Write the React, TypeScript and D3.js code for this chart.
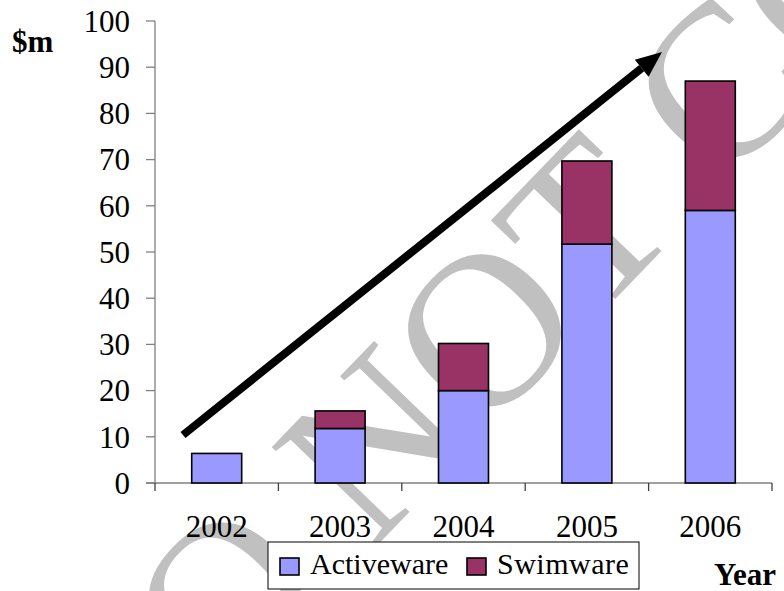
import React from 'react';
import * as d3 from 'd3';

const years = ['2002', '2003', '2004', '2005', '2006'];
const activeware = [6.4, 11.8, 20, 51.7, 59];
const swimware = [0, 3.8, 10.2, 18, 28];
const yTicks = [0, 10, 20, 30, 40, 50, 60, 70, 80, 90, 100];
const seriesNames = ['Activeware', 'Swimware'];
const seriesColors = ['#9999FF', '#993366'];

const W = 784;
const H = 591;
const left = 155;
const right = 772;
const top = 21;
const bottom = 483;
const FONT = "'Liberation Serif', 'Times New Roman', serif";

export default function App() {
  const x = d3.scaleBand<string>().domain(years).range([left, right]).padding(0);
  const y = d3.scaleLinear().domain([0, 100]).range([bottom, top]);
  const barW = x.bandwidth() * 0.405;

  const table = years.map((yr, i) => ({ year: yr, Activeware: activeware[i], Swimware: swimware[i] }));
  const stack = d3.stack<any>().keys(seriesNames);
  const layers = stack(table);

  const boundaries = years.map((yr) => x(yr)!).concat([right]);

  // arrow annotation (data-independent)
  const ax0 = 183, ay0 = 435, ax1 = 662, ay1 = 52;
  const ang = Math.atan2(ay1 - ay0, ax1 - ax0);
  const headLen = 26, headHalf = 11;
  const bx = ax1 - headLen * Math.cos(ang);
  const by = ay1 - headLen * Math.sin(ang);
  const px = -Math.sin(ang), py = Math.cos(ang);
  const head = `M${ax1},${ay1}L${bx + headHalf * px},${by + headHalf * py}L${bx - headHalf * px},${by - headHalf * py}Z`;

  return (
    <svg
      width={W}
      height={H}
      style={{ position: 'absolute', left: 0, top: 0, display: 'block', background: '#fff' }}
      fontFamily={FONT}
    >
      <rect x={0} y={0} width={W} height={H} fill="#fff" />
      {/* watermark */}
      <text
        transform="translate(112,820) rotate(-46)"
        fontSize={220}
        fill="#c0c0c0"
        fontFamily={FONT}
      >
        DO NOT COPY
      </text>

      {/* axes */}
      <line x1={left} x2={left} y1={top} y2={bottom} stroke="#808080" strokeWidth={1.3} />
      {yTicks.map((t) => (
        <g key={t}>
          <line x1={left - 9} x2={left} y1={y(t)} y2={y(t)} stroke="#808080" strokeWidth={1.3} />
          <text x={130} y={y(t)} dy="0.35em" textAnchor="end" fontSize={31} fill="#000">
            {t}
          </text>
        </g>
      ))}
      <line x1={left - 9} x2={right} y1={bottom} y2={bottom} stroke="#808080" strokeWidth={1.3} />
      {boundaries.map((b, i) => (
        <line key={i} x1={b} x2={b} y1={bottom} y2={bottom + 8} stroke="#404040" strokeWidth={1.3} />
      ))}

      {/* bars */}
      {layers.map((layer, li) => (
        <g key={layer.key}>
          {layer.map((d, i) =>
            d[1] - d[0] > 0 ? (
              <rect
                key={i}
                x={x(years[i])! + (x.bandwidth() - barW) / 2}
                y={y(d[1])}
                width={barW}
                height={y(d[0]) - y(d[1])}
                fill={seriesColors[li]}
                stroke="#000"
                strokeWidth={1.6}
              />
            ) : null
          )}
        </g>
      ))}

      {/* x labels */}
      {years.map((yr) => (
        <text key={yr} x={x(yr)! + x.bandwidth() / 2} y={537} textAnchor="middle" fontSize={31} fill="#000">
          {yr}
        </text>
      ))}

      {/* arrow */}
      <line x1={ax0} y1={ay0} x2={bx} y2={by} stroke="#000" strokeWidth={8} />
      <path d={head} fill="#000" />

      {/* axis titles */}
      <text x={12} y={52} fontSize={31} fontWeight="bold" fill="#000">$m</text>
      <text x={714} y={585} fontSize={31} fontWeight="bold" fill="#000">Year</text>

      {/* legend */}
      <rect x={268} y={542} width={371} height={47} fill="#fff" stroke="#000" strokeWidth={1} />
      <rect x={280} y={558} width={19} height={17} fill={seriesColors[0]} stroke="#000" strokeWidth={1.6} />
      <text x={310} y={574} fontSize={30} fill="#000">{seriesNames[0]}</text>
      <rect x={467} y={558} width={19} height={17} fill={seriesColors[1]} stroke="#000" strokeWidth={1.6} />
      <text x={497} y={574} fontSize={30} fill="#000" letterSpacing={0.5}>{seriesNames[1]}</text>
    </svg>
  );
}
